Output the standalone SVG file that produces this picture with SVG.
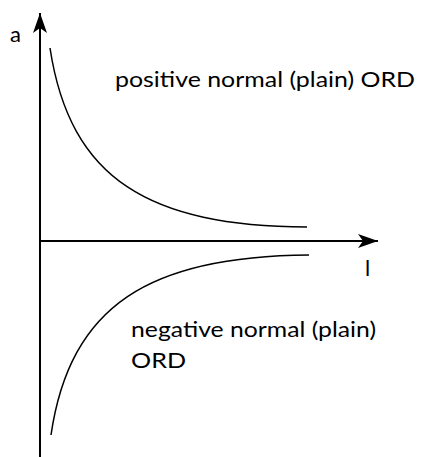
<svg xmlns="http://www.w3.org/2000/svg" width="422" height="457" viewBox="0 0 422 457">
<style>
.ax{stroke:#000;stroke-width:2;fill:none}
.cv{stroke:#000;stroke-width:1.5;fill:none}
.t{font-family:Lato,"Liberation Sans",sans-serif;fill:#000;font-size:22px}
</style>
<defs>
<marker id="ah" viewBox="0 0 20 14" refX="20" refY="7" markerWidth="20" markerHeight="14" markerUnits="userSpaceOnUse" orient="auto">
<path d="M0,0 L20,7 L0,14 L5,7 Z" fill="#000"/>
</marker>
</defs>
<rect width="422" height="457" fill="#fff"/>
<g id="connectors">
<line class="ax" x1="40" y1="457" x2="40" y2="13" marker-end="url(#ah)"/>
<line class="ax" x1="40" y1="241" x2="378" y2="241" marker-end="url(#ah)"/>
<path id="positive-curve" class="cv" d="M50,48 C70,180 150,226 307,227"/>
<path id="negative-curve" class="cv" d="M51,435 C70,305 150,256 309,255"/>
</g>
<g id="label-a"><text class="t" x="10" y="42">a</text></g>
<g id="label-l"><text class="t" x="365" y="276">l</text></g>
<g id="label-positive"><text class="t" x="115" y="87" textLength="300" lengthAdjust="spacingAndGlyphs">positive normal (plain) ORD</text></g>
<g id="label-negative"><text class="t" x="131" y="337" textLength="245" lengthAdjust="spacingAndGlyphs">negative normal (plain)</text><text class="t" x="131" y="368" textLength="55" lengthAdjust="spacingAndGlyphs">ORD</text></g>
</svg>
